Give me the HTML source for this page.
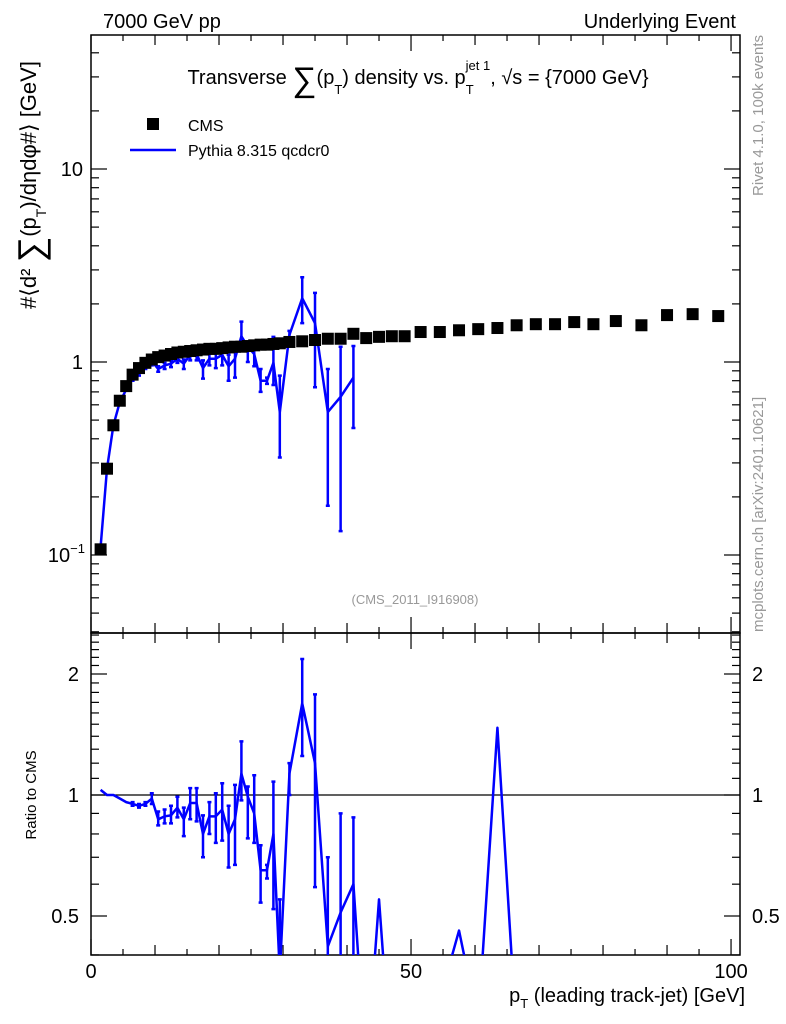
<!DOCTYPE html>
<html><head><meta charset="utf-8"><style>
html,body{margin:0;padding:0;background:#fff;width:786px;height:1024px;overflow:hidden;}
svg{display:block;font-family:"Liberation Sans",sans-serif;}
</style></head><body>
<svg id="chart" width="786" height="1024" viewBox="0 0 786 1024" xmlns="http://www.w3.org/2000/svg">
<text x="103" y="28" font-size="20">7000 GeV pp</text>
<text x="736" y="28" font-size="20" text-anchor="end">Underlying Event</text>
<g id="gtop"></g>
<g id="gbot"></g>
<text x="418" y="84" font-size="20" text-anchor="middle">Transverse <tspan font-size="34" dy="7">∑</tspan><tspan dy="-7">(p</tspan><tspan font-size="13" dy="10">T</tspan><tspan dy="-10">) density vs. p</tspan><tspan font-size="13" dy="10">T</tspan><tspan font-size="13" dx="-8" dy="-24">jet 1</tspan><tspan dy="14">, √s = {7000 GeV}</tspan></text>
<rect x="147" y="118" width="12" height="12" fill="#000"/>
<text x="188" y="131" font-size="16">CMS</text>
<line x1="130" y1="150" x2="176" y2="150" stroke="#0000ff" stroke-width="2.5"/>
<text x="188" y="156" font-size="16">Pythia 8.315 qcdcr0</text>
<text x="415" y="604" font-size="13" fill="#999" text-anchor="middle">(CMS_2011_I916908)</text>
<text transform="translate(36,185) rotate(-90)" font-size="22" text-anchor="middle">#⟨d² <tspan font-size="36" dy="7">∑</tspan><tspan dy="-7">(p</tspan><tspan font-size="14" dy="10">T</tspan><tspan dy="-10">)/dηdφ#⟩ [GeV]</tspan></text>
<text transform="translate(36,795) rotate(-90)" font-size="15" text-anchor="middle">Ratio to CMS</text>
<text x="745" y="1002" font-size="20" text-anchor="end">p<tspan font-size="13" dy="6">T</tspan><tspan dy="-6"> (leading track-jet) [GeV]</tspan></text>
<text transform="translate(763,35) rotate(-90)" font-size="15" fill="#999" text-anchor="end">Rivet 4.1.0,  100k events</text>
<text transform="translate(763,632) rotate(-90)" font-size="15" fill="#999">mcplots.cern.ch [arXiv:2401.10621]</text>
</svg>
<script>
const cmsX=[1.5,2.5,3.5,4.5,5.5,6.5,7.5,8.5,9.5,10.5,11.5,12.5,13.5,14.5,15.5,16.5,17.5,18.5,19.5,20.5,21.5,22.5,23.5,24.5,25.5,26.5,27.5,28.5,29.5,31,33,35,37,39,41,43,45,47,49,51.5,54.5,57.5,60.5,63.5,66.5,69.5,72.5,75.5,78.5,82,86,90,94,98];
const cmsY=[0.107,0.28,0.47,0.63,0.75,0.86,0.93,0.99,1.03,1.06,1.08,1.1,1.12,1.13,1.14,1.15,1.16,1.17,1.17,1.18,1.19,1.2,1.2,1.21,1.22,1.23,1.23,1.24,1.25,1.27,1.28,1.30,1.32,1.32,1.40,1.33,1.35,1.36,1.36,1.43,1.43,1.46,1.48,1.50,1.55,1.57,1.57,1.61,1.57,1.63,1.55,1.75,1.77,1.73];
const pyX=[1.5,2.5,3.5,4.5,5.5,6.5,7.5,8.5,9.5,10.5,11.5,12.5,13.5,14.5,15.5,16.5,17.5,18.5,19.5,20.5,21.5,22.5,23.5,24.5,25.5,26.5,27.5,28.5,29.5,31,33,35,37,39,41];
const pyY=[0.11,0.28,0.47,0.62,0.72,0.82,0.87,0.94,1.01,0.92,0.96,0.98,1.04,0.98,1.09,1.10,0.93,1.04,1.04,1.09,0.95,1.04,1.36,1.2,1.1,0.8,0.8,0.99,0.55,1.38,2.14,1.59,0.55,0.66,0.83];
const pyLo=[0.11,0.28,0.47,0.62,0.72,0.80,0.85,0.92,0.96,0.89,0.92,0.94,0.99,0.92,1.02,1.02,0.82,0.96,0.93,0.96,0.80,0.83,1.18,1.0,0.95,0.7,0.77,0.76,0.32,1.27,1.59,0.74,0.18,0.133,0.455];
const pyHi=[0.11,0.28,0.47,0.62,0.72,0.84,0.89,0.96,1.05,0.95,0.99,1.02,1.09,1.03,1.16,1.16,1.02,1.11,1.14,1.21,1.09,1.22,1.62,1.25,1.27,0.92,0.83,1.35,0.85,1.45,2.75,2.28,0.92,1.2,1.21];
const rX=[1.5,2.5,3.5,4.5,5.5,6.5,7.5,8.5,9.5,10.5,11.5,12.5,13.5,14.5,15.5,16.5,17.5,18.5,19.5,20.5,21.5,22.5,23.5,24.5,25.5,26.5,27.5,28.5,29.5,31,33,35,37,39,41,43,45,47,49,51.5,54.5,57.5,60.5,63.5,66.5];
const rY=[1.03,1.0,1.0,0.98,0.96,0.95,0.94,0.95,0.98,0.87,0.885,0.89,0.93,0.87,0.955,0.955,0.80,0.885,0.885,0.92,0.80,0.87,1.13,0.99,0.90,0.65,0.65,0.80,0.36,1.13,1.69,1.2,0.42,0.51,0.60,0.2,0.55,0.2,0.2,0.2,0.31,0.46,0.27,1.47,0.25];
const rLo=[1.03,1.0,1.0,0.98,0.96,0.94,0.93,0.94,0.95,0.84,0.85,0.85,0.88,0.79,0.87,0.86,0.70,0.80,0.76,0.77,0.66,0.67,0.97,0.78,0.76,0.54,0.62,0.52,0.25,1.0,1.25,0.59,0.15,0.1,0.3,0.2,0.55,0.2,0.2,0.2,0.31,0.46,0.27,1.47,0.25];
const rHi=[1.03,1.0,1.0,0.98,0.96,0.96,0.95,0.96,1.01,0.91,0.92,0.94,0.99,0.93,1.04,1.04,0.89,0.96,1.01,1.07,0.94,1.06,1.36,1.05,1.12,0.75,0.67,1.08,0.55,1.2,2.18,1.78,0.70,0.90,0.88,0.2,0.55,0.2,0.2,0.2,0.31,0.46,0.27,1.47,0.25];
const yTickVals=[0.1,1,10];
const yTickLbl=['10','1','10'];
const rTickVals=[0.5,1,2];
const rTickLbl=['0.5','1','2'];
const xTickVals=[0,50,100];
const xTickLbl=['0','50','100'];

(function(){
const NS="http://www.w3.org/2000/svg";
const L=91,R=740,T1=35,B1=633,T2=633,B2=955;
const xs=v=>L+(v-0)*(R-L)/101.4;
const ys1=v=>362-193*Math.log10(v);
const ys2=v=>795-121*Math.log2(v);
function mk(parent,tag,attrs){const e=document.createElementNS(NS,tag);for(const k in attrs)e.setAttribute(k,attrs[k]);parent.appendChild(e);return e;}
const svg=document.getElementById('chart');
const defs=mk(svg,'defs',{});
const c1=mk(defs,'clipPath',{id:'c1'});mk(c1,'rect',{x:L,y:T1,width:R-L,height:B1-T1});
const c2=mk(defs,'clipPath',{id:'c2'});mk(c2,'rect',{x:L,y:T2,width:R-L,height:B2-T2});
const gTop=document.getElementById('gtop'),gBot=document.getElementById('gbot');

function frame(g,yt,yb,name){
  const r=mk(g,'rect',{x:L,y:yt,width:R-L,height:yb-yt,fill:'none',stroke:'#000','stroke-width':1.5});
  
  
  for(let v=0;v<=100;v+=5){
    const len=v%50===0?16:(v%10===0?10:6);
    const x=xs(v);
    mk(g,'line',{x1:x,y1:yb,x2:x,y2:yb-len,stroke:'#000','stroke-width':1.2});
    mk(g,'line',{x1:x,y1:yt,x2:x,y2:yt+len,stroke:'#000','stroke-width':1.2});
  }
}
frame(gTop,T1,B1,'main-frame');frame(gBot,T2,B2,'ratio-frame');

for(let d=-2;d<=1;d++){for(let m=1;m<=9;m++){
  const v=m*Math.pow(10,d);const y=ys1(v);if(y<T1||y>B1)continue;
  const len=m===1?16:8;
  mk(gTop,'line',{x1:L,y1:y,x2:L+len,y2:y,stroke:'#000','stroke-width':1.2});
  mk(gTop,'line',{x1:R,y1:y,x2:R-len,y2:y,stroke:'#000','stroke-width':1.2});
}}
yTickVals.forEach((v,i)=>{
  const t=mk(gTop,'text',{x:L-8,y:ys1(v)+7,'font-size':20,'text-anchor':'end'});
  t.textContent=yTickLbl[i];
  if(i===0){const s=mk(t,'tspan',{'font-size':13,dy:-9});s.textContent='−1';t.setAttribute('x',L-6);}
  
  
});
const rMinor=[0.4,0.5,0.6,0.7,0.8,0.9,1,1.1,1.2,1.3,1.4,1.5,1.6,1.7,1.8,1.9,2,2.1,2.2,2.3,2.4,2.5];
rMinor.forEach(v=>{const y=ys2(v);if(y<T2||y>B2)return;const big=(v===0.5||v===1||v===2);const len=big?16:8;
  mk(gBot,'line',{x1:L,y1:y,x2:L+len,y2:y,stroke:'#000','stroke-width':1.2});
  mk(gBot,'line',{x1:R,y1:y,x2:R-len,y2:y,stroke:'#000','stroke-width':1.2});});
rTickVals.forEach((v,i)=>{
  const t=mk(gBot,'text',{x:L-12,y:ys2(v)+7,'font-size':20,'text-anchor':'end'});t.textContent=rTickLbl[i];
  
  
  const t2=mk(gBot,'text',{x:R+12,y:ys2(v)+7,'font-size':20});t2.textContent=rTickLbl[i];
  
  
});
xTickVals.forEach((v,i)=>{const t=mk(gBot,'text',{x:xs(v),y:978,'font-size':20,'text-anchor':'middle'});t.textContent=xTickLbl[i];
  
  });
const ul=mk(gBot,'line',{x1:L,y1:ys2(1),x2:R,y2:ys2(1),stroke:'#000','stroke-width':1.2});



const gp=mk(gTop,'g',{'clip-path':'url(#c1)'});
pyX.forEach((x,i)=>{const X=xs(x);
  const e=mk(gp,'path',{d:`M${X} ${ys1(pyLo[i])}V${ys1(pyHi[i])}M${X-2} ${ys1(pyLo[i])}H${X+2}M${X-2} ${ys1(pyHi[i])}H${X+2}`,stroke:'#0000ff','stroke-width':2.5,fill:'none'});
  
  });
const pl=mk(gp,'polyline',{points:pyX.map((x,i)=>xs(x)+','+ys1(pyY[i])).join(' '),fill:'none',stroke:'#0000ff','stroke-width':2.5,'stroke-linejoin':'round'});


const gc=mk(gTop,'g',{'clip-path':'url(#c1)'});
cmsX.forEach((x,i)=>{const s=mk(gc,'rect',{x:xs(x)-6,y:ys1(cmsY[i])-6,width:12,height:12,fill:'#000'});
  
  });
const gr=mk(gBot,'g',{'clip-path':'url(#c2)'});
rX.forEach((x,i)=>{if(rLo[i]===rHi[i])return;const X=xs(x);
  const e=mk(gr,'path',{d:`M${X} ${ys2(rLo[i])}V${ys2(rHi[i])}M${X-2} ${ys2(rLo[i])}H${X+2}M${X-2} ${ys2(rHi[i])}H${X+2}`,stroke:'#0000ff','stroke-width':2.5,fill:'none'});
  
  });
const rl=mk(gr,'polyline',{points:rX.map((x,i)=>xs(x)+','+ys2(rY[i])).join(' '),fill:'none',stroke:'#0000ff','stroke-width':2.5,'stroke-linejoin':'round'});


})();
</script>
</body></html>
